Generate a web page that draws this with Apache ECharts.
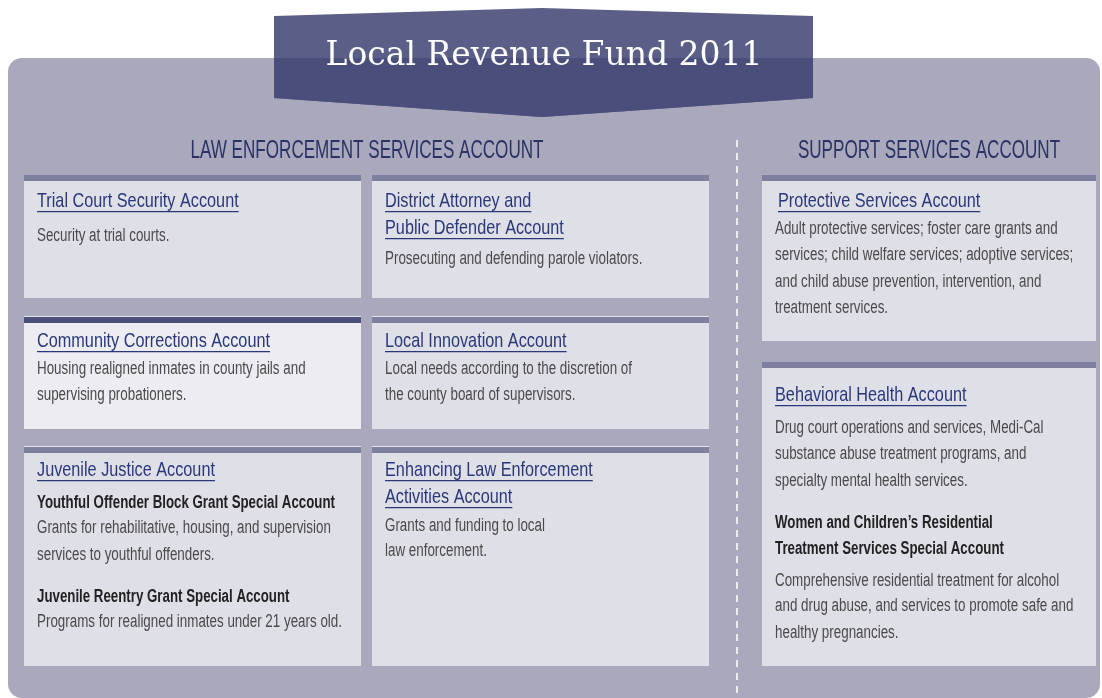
<!DOCTYPE html>
<html>
<head>
<meta charset="utf-8">
<script src="https://cdn.jsdelivr.net/npm/echarts@6/dist/echarts.min.js"></script>
<style>
  html, body { margin: 0; padding: 0; background: #fff; }
  #main { width: 1102px; height: 698px; }
</style>
</head>
<body>
<div id="main"></div>
<script>
// texts of the infographic
var bannerTitle = 'Local Revenue Fund 2011';
var sectionTitles = ['LAW ENFORCEMENT SERVICES ACCOUNT', 'SUPPORT SERVICES ACCOUNT'];

// t = account name (underlined), s = sub account, b = description
var cardLines = [
    [['t', 'Trial Court Security Account'], ['b', 'Security at trial courts.']],
    [['t', 'District Attorney and'], ['t', 'Public Defender Account'], ['b', 'Prosecuting and defending parole violators.']],
    [['t', 'Community Corrections Account'], ['b', 'Housing realigned inmates in county jails and'], ['b', 'supervising probationers.']],
    [['t', 'Local Innovation Account'], ['b', 'Local needs according to the discretion of'], ['b', 'the county board of supervisors.']],
    [['t', 'Juvenile Justice Account'], ['s', 'Youthful Offender Block Grant Special Account'],
        ['b', 'Grants for rehabilitative, housing, and supervision'], ['b', 'services to youthful offenders.'],
        ['s', 'Juvenile Reentry Grant Special Account'], ['b', 'Programs for realigned inmates under 21 years old.']],
    [['t', 'Enhancing Law Enforcement'], ['t', 'Activities Account'], ['b', 'Grants and funding to local'], ['b', 'law enforcement.']],
    [['t', 'Protective Services Account'], ['b', 'Adult protective services; foster care grants and'],
        ['b', 'services; child welfare services; adoptive services;'], ['b', 'and child abuse prevention, intervention, and'],
        ['b', 'treatment services.']],
    [['t', 'Behavioral Health Account'], ['b', 'Drug court operations and services, Medi-Cal'],
        ['b', 'substance abuse treatment programs, and'], ['b', 'specialty mental health services.'],
        ['s', 'Women and Children\u2019s Residential'], ['s', 'Treatment Services Special Account'],
        ['b', 'Comprehensive residential treatment for alcohol'], ['b', 'and drug abuse, and services to promote safe and'],
        ['b', 'healthy pregnancies.']]
];

// layout
var cardBoxes = [ // x, top, right, bottom
    [24, 175, 361, 298], [372, 175, 709, 298],
    [24, 317, 361, 429], [372, 317, 709, 429],
    [24, 447, 361, 666], [372, 447, 709, 666],
    [762, 175, 1096, 341], [762, 362, 1096, 666]
];
var cardLineY = [
    [201, 236], [201, 228, 259], [341, 369, 395], [341, 369, 395],
    [470, 503, 528, 555, 597, 622], [470, 497, 526, 551],
    [201, 229, 255, 282, 308],
    [395, 428, 454, 481, 523, 549, 581, 606, 633]
];
var highlightCard = 2;

var FAMILY = '"Liberation Sans", Arial, sans-serif';
var measureCtx = document.createElement('canvas').getContext('2d');
function textWidth(str, size, weight, family) {
    measureCtx.font = weight + ' ' + size + 'px ' + family;
    return measureCtx.measureText(str).width;
}
// condensed look: horizontal squeeze calibrated on one sample line per style
function makeFont(size, weight, color, sample, targetW) {
    return { size: size, weight: weight, color: color,
        sx: targetW / textWidth(sample, size, weight, FAMILY) };
}
var fonts = {
    t: makeFont(21, 'normal', '#2a3878', 'Community Corrections Account', 233),
    s: makeFont(18, 'bold', '#222222', 'Youthful Offender Block Grant Special Account', 298),
    b: makeFont(18, 'normal', '#4a4a4a', 'Programs for realigned inmates under 21 years old.', 305),
    h: makeFont(25, 'normal', '#2b3264', 'LAW ENFORCEMENT SERVICES ACCOUNT', 353)
};

var elements = [];

// big panel
elements.push({
    type: 'rect', shape: { x: 8, y: 58, width: 1092, height: 640, r: 14 },
    style: { fill: '#a9a8bd' }, silent: true
});

// banner
elements.push({
    type: 'polygon',
    shape: { points: [[274, 16], [542, 8], [813, 16], [813, 98], [542, 117], [274, 98]] },
    style: { fill: '#5b5e86' }
});
elements.push({
    type: 'polygon',
    shape: { points: [[274, 58], [813, 58], [813, 98], [542, 117], [274, 98]] },
    style: { fill: '#4a4e7a' }
});
elements.push({
    type: 'text', x: 544, y: 56,
    style: {
        text: bannerTitle, fill: '#ffffff', fontSize: 33,
        fontFamily: '"DejaVu Serif", serif', textAlign: 'center', textVerticalAlign: 'middle'
    }
});

// section headers
[[367, sectionTitles[0]], [929, sectionTitles[1]]].forEach(function (h) {
    elements.push({
        type: 'text', x: h[0], y: 151, scaleX: fonts.h.sx,
        style: { text: h[1], fill: fonts.h.color, fontSize: fonts.h.size, fontFamily: FAMILY,
            textAlign: 'center', textVerticalAlign: 'middle' }
    });
});

// dashed divider
elements.push({
    type: 'line', shape: { x1: 737, y1: 140, x2: 737, y2: 698 },
    style: { stroke: '#ffffff', lineWidth: 1.5, lineDash: [7, 6] }
});

// cards
cardBoxes.forEach(function (b, i) {
    var hi = i === highlightCard;
    if (b[1] > 300 && b[0] < 720) {
        elements.push({ type: 'rect', shape: { x: b[0], y: b[1] - 1, width: b[2] - b[0], height: 1 },
            style: { fill: '#e4e4ec' } });
    }
    elements.push({
        type: 'rect', shape: { x: b[0], y: b[1], width: b[2] - b[0], height: b[3] - b[1] },
        style: { fill: hi ? '#ececf2' : '#dfdfe8' }
    });
    elements.push({
        type: 'rect', shape: { x: b[0], y: b[1], width: b[2] - b[0], height: 6 },
        style: { fill: hi ? '#4a4f7a' : '#7f7f9f' }
    });
    var left = b[0] + 13;
    cardLines[i].forEach(function (ln, j) {
        var f = fonts[ln[0]];
        var y = cardLineY[i][j];
        var x = left + (ln[0] === 't' && i === 6 ? 3 : 0);
        elements.push({
            type: 'text', x: x, y: y, scaleX: f.sx,
            style: { text: ln[1], fill: f.color, fontSize: f.size, fontWeight: f.weight,
                fontFamily: FAMILY, textAlign: 'left', textVerticalAlign: 'middle' }
        });
        if (ln[0] === 't') {
            var w = textWidth(ln[1], f.size, f.weight, FAMILY) * f.sx;
            elements.push({
                type: 'rect', shape: { x: x, y: y + 10, width: w, height: 1.3 },
                style: { fill: f.color }
            });
        }
    });
});

var chart = echarts.init(document.getElementById('main'), null, { renderer: 'canvas' });
chart.setOption({
    animation: false,
    graphic: { elements: elements }
});
</script>
</body>
</html>
